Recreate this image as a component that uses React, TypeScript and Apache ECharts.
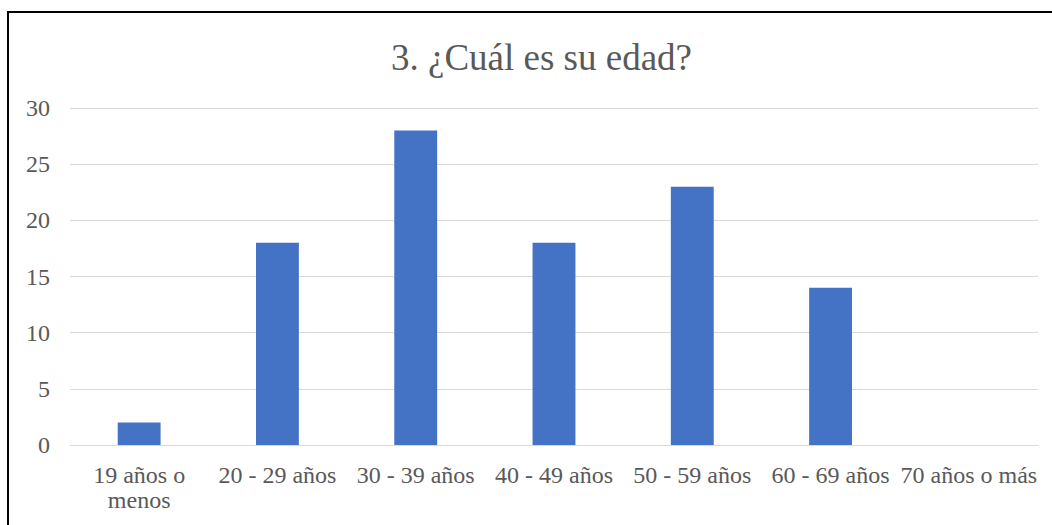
import React, { useEffect, useRef } from "react";
import * as echarts from "echarts";

const categories = ["19 años o\nmenos", "20 - 29 años", "30 - 39 años", "40 - 49 años", "50 - 59 años", "60 - 69 años", "70 años o más"];
const values = [2, 18, 28, 18, 23, 14, 0];
const titleText = "3. ¿Cuál es su edad?";

export default function App() {
  const ref = useRef<HTMLDivElement>(null);
  useEffect(() => {
    const chart = echarts.init(ref.current!, null, { renderer: "svg" });
    const font = "Liberation Serif";
    chart.setOption({
      animation: false,
      backgroundColor: "#ffffff",
      title: {
        text: titleText,
        left: 386,
        top: 34,
        textStyle: { fontFamily: font, fontSize: 37, fontWeight: "normal", color: "#595959" },
      },
      grid: { left: 70, right: 14, top: 108, bottom: 80 },
      xAxis: {
        type: "category",
        data: categories,
        axisLine: { lineStyle: { color: "#d9d9d9", width: 1 } },
        axisTick: { show: false },
        axisLabel: { fontFamily: font, fontSize: 24, color: "#595959", margin: 17, lineHeight: 25, interval: 0 },
      },
      yAxis: {
        type: "value",
        min: 0,
        max: 30,
        interval: 5,
        axisLine: { show: false },
        axisTick: { show: false },
        splitLine: { lineStyle: { color: "#d9d9d9", width: 1 } },
        axisLabel: { fontFamily: font, fontSize: 24, color: "#595959", margin: 20 },
      },
      series: [
        {
          type: "bar",
          data: values,
          barWidth: "31%",
          itemStyle: { color: "#4472C4" },
        },
      ],
      graphic: [
        {
          type: "rect",
          shape: { x: 8, y: 12, width: 1200, height: 700 },
          style: { fill: "none", stroke: "#000000", lineWidth: 2 },
          silent: true,
        },
      ],
    });
    return () => chart.dispose();
  }, []);
  return <div ref={ref} style={{ position: "fixed", left: 0, top: 0, width: 1052, height: 525 }} />;
}
